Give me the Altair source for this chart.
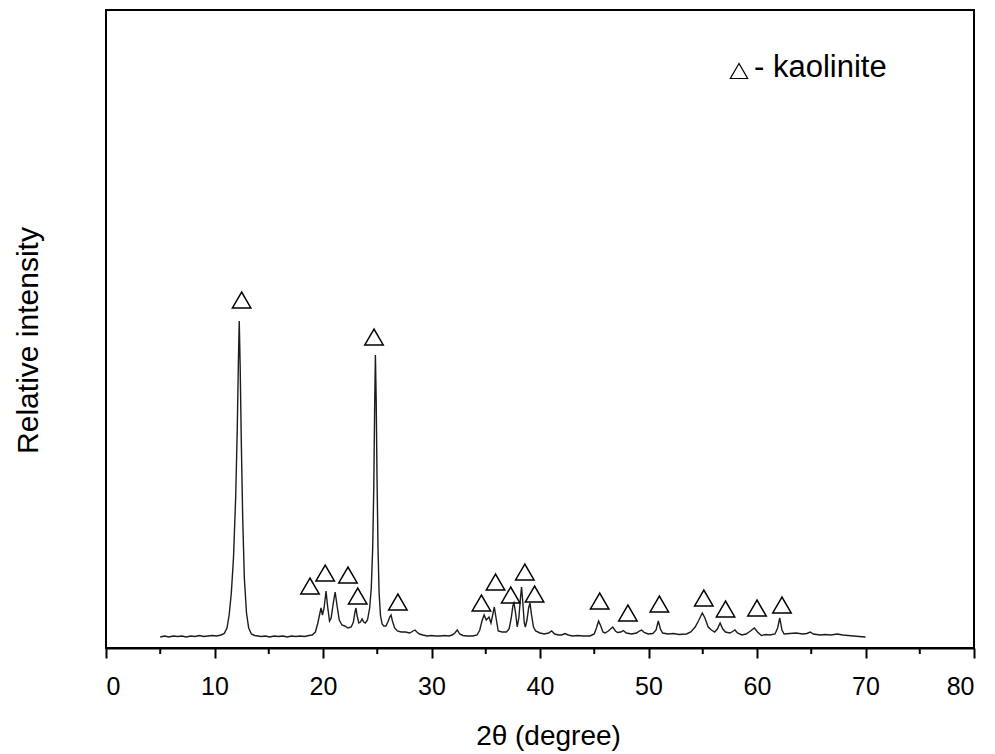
import altair as alt
import pandas as pd

# XRD trace: diffraction angle (2θ, degrees) and relative intensity (a.u.)
two_theta = [
    5.0, 5.4, 5.8, 6.2, 6.6, 7.0, 7.4, 7.8, 8.2, 8.6, 9.0, 9.4, 9.8, 10.2,
    10.6, 10.9, 11.15, 11.35, 11.55, 11.75, 11.95, 12.1, 12.2, 12.28, 12.36,
    12.48, 12.6, 12.75, 12.95, 13.15, 13.4, 13.7, 14.0, 14.3, 14.7, 15.1,
    15.5, 15.9, 16.3, 16.7, 17.1, 17.5, 17.9, 18.3, 18.7, 19.0, 19.3, 19.5,
    19.7, 19.82, 19.95, 20.1, 20.28, 20.42, 20.6, 20.75, 20.95, 21.12, 21.3,
    21.5, 21.75, 22.0, 22.3, 22.6, 22.8, 22.95, 23.04, 23.15, 23.3, 23.45,
    23.6, 23.75, 23.9, 24.1, 24.3, 24.45, 24.58, 24.68, 24.76, 24.83, 24.9,
    24.98, 25.07, 25.17, 25.3, 25.45, 25.6, 25.8, 25.98, 26.15, 26.27, 26.4,
    26.6, 26.85, 27.2, 27.6, 28.0, 28.3, 28.48, 28.65, 28.9, 29.2, 29.6,
    30.0, 30.4, 30.8, 31.2, 31.6, 31.9, 32.15, 32.38, 32.6, 32.9, 33.3, 33.8,
    34.2, 34.45, 34.65, 34.85, 35.05, 35.3, 35.48, 35.62, 35.79, 35.95,
    36.15, 36.5, 36.9, 37.15, 37.35, 37.5, 37.6, 37.75, 37.9, 38.05, 38.2,
    38.3, 38.42, 38.55, 38.65, 38.8, 38.95, 39.08, 39.22, 39.4, 39.6, 40.0,
    40.4, 40.8, 41.07, 41.35, 41.7, 42.0, 42.3, 42.6, 43.0, 43.5, 44.0, 44.6,
    45.0, 45.2, 45.4, 45.6, 45.8, 46.0, 46.3, 46.7, 46.95, 47.15, 47.45,
    47.68, 47.95, 48.45, 48.9, 49.15, 49.36, 49.6, 49.97, 50.4, 50.7, 50.9,
    51.1, 51.3, 51.8, 52.3, 52.8, 53.5, 53.9, 54.3, 54.6, 54.96, 55.2, 55.5,
    55.8, 56.1, 56.35, 56.6, 56.85, 57.1, 57.5, 57.75, 57.97, 58.2, 58.6,
    59.0, 59.4, 59.75, 60.05, 60.4, 60.8, 61.2, 61.66, 61.9, 62.1, 62.3,
    62.5, 63.0, 63.6, 64.2, 64.6, 64.9, 65.2, 65.8, 66.3, 66.8, 67.4, 67.9,
    68.4, 68.9, 69.4, 70.0,
]
intensity = [
    11, 12, 11, 12, 11.5, 12, 11, 12, 11.5, 12.5, 11.5, 12, 12.5, 12,
    13, 14.5, 20, 33, 55, 90, 150, 220, 285, 327, 285,
    200, 130, 70, 35, 20, 14, 12.5, 12, 11.5, 12, 11,
    12, 11.5, 12, 11, 12, 11.5, 12, 11.5, 12.5, 13, 16, 24,
    34, 40, 33, 40, 57, 42, 27, 30, 45, 56, 42,
    28, 23, 22, 20, 21, 26, 36, 40, 32, 25, 26,
    29, 26, 25, 28, 40, 60, 100, 160, 240, 293, 250,
    170, 100, 55, 32, 24, 22, 22, 26, 31, 33, 27,
    20, 17, 16, 16, 15, 17, 18, 16, 14, 13, 12,
    12.5, 12, 12, 12.5, 12, 13, 15, 18, 14, 12.5, 12, 12,
    13, 18, 27, 33, 28, 31, 25, 32, 41, 30,
    17, 16, 16, 19, 30, 42, 45, 35, 21, 30, 50,
    61, 45, 25, 21, 28, 40, 45, 33, 21, 17, 15,
    14, 15, 17, 14, 13, 13, 14.5, 13, 12, 12.5, 12, 12,
    14, 20, 27, 22, 16, 15, 17, 21, 17, 15.5, 16,
    17.5, 15, 14, 15, 17, 18, 15.5, 14, 14.5, 18, 27,
    19, 15, 14, 14.5, 13.5, 14, 16, 21, 27, 35, 30, 21,
    18, 16, 19, 25, 19, 16, 15, 16.5, 18, 15, 13,
    14, 17, 20, 16, 12.5, 13.5, 13, 14, 20, 30, 18,
    14, 14.5, 15, 14, 14.5, 16, 14, 13, 13.5, 13, 14, 13,
    12.5, 12, 11.5, 11,
]

# Kaolinite reflections marked with open triangles (2θ, marker height)
kaolinite_2theta = [12.5, 24.7, 18.8, 20.2, 22.3, 23.2, 26.9, 34.6, 35.9,
                    37.3, 38.6, 39.5, 45.5, 48.1, 51.0, 55.1, 57.1, 60.0, 62.3]
kaolinite_level = [348, 311, 62, 75, 73, 52, 46, 45, 66,
                   53, 76, 54, 47, 35, 44, 50, 39, 40, 43]

major_ticks = [0, 10, 20, 30, 40, 50, 60, 70, 80]
minor_ticks = [5, 15, 25, 35, 45, 55, 65, 75]

W, H = 868, 638
FONT = "Liberation Sans"

trace = pd.DataFrame({"two_theta": two_theta, "intensity": intensity})
marks = pd.DataFrame({"two_theta": kaolinite_2theta, "level": kaolinite_level})
minor = pd.DataFrame({"tick": minor_ticks})

x_scale = alt.Scale(domain=[0, 80], nice=False)
y_scale = alt.Scale(domain=[0, 638], nice=False)

x_axis = alt.Axis(
    values=major_ticks, format="d", grid=False,
    tickSize=10, tickWidth=2, tickColor="black",
    domainColor="black", domainWidth=2,
    labelFont=FONT, labelFontSize=25, labelColor="black", labelPadding=16,
    title="2θ (degree)", titleFont=FONT, titleFontSize=28,
    titleFontWeight="normal", titleColor="black",
    titleX=442, titleY=88, titleBaseline="middle", titleAlign="center",
)
y_axis = alt.Axis(
    ticks=False, labels=False, grid=False, domain=False,
    title="Relative intensity", titleFont=FONT, titleFontSize=30,
    titleFontWeight="normal", titleColor="black",
    titleX=-78, titleY=330, titleAngle=270,
    titleBaseline="middle", titleAlign="center",
)

line = alt.Chart(trace).mark_line(color="#1c1c1c", strokeWidth=1.4).encode(
    x=alt.X("two_theta:Q", scale=x_scale, axis=x_axis),
    y=alt.Y("intensity:Q", scale=y_scale, axis=y_axis),
    order="two_theta:Q",
)

triangles = alt.Chart(marks).mark_point(
    shape="triangle-up", filled=False, size=340,
    stroke="black", strokeWidth=1.5, opacity=1,
).encode(
    x=alt.X("two_theta:Q", scale=x_scale),
    y=alt.Y("level:Q", scale=y_scale),
)

minor_rules = alt.Chart(minor).mark_rule(color="black", strokeWidth=2).encode(
    x=alt.X("tick:Q", scale=x_scale),
    y=alt.value(H),
    y2=alt.value(H + 6),
)

legend_symbol = alt.Chart(pd.DataFrame({"k": [0]})).mark_point(
    shape="triangle-up", filled=False, size=300,
    stroke="black", strokeWidth=1.2, opacity=1,
).encode(x=alt.value(633), y=alt.value(61))

legend_text = alt.Chart(pd.DataFrame({"k": [0]})).mark_text(
    text="- kaolinite", font=FONT, fontSize=31, align="left",
    baseline="alphabetic", color="black",
).encode(x=alt.value(648), y=alt.value(67))

chart = alt.layer(
    line, triangles, minor_rules, legend_symbol, legend_text
).properties(
    width=W, height=H,
    autosize=alt.AutoSizeParams(type="none"),
    padding={"left": 106, "top": 10, "right": 21, "bottom": 106},
    background="white",
).configure_view(stroke="black", strokeWidth=2)

chart.save("out.html", embed_options={"renderer": "svg", "actions": False})
